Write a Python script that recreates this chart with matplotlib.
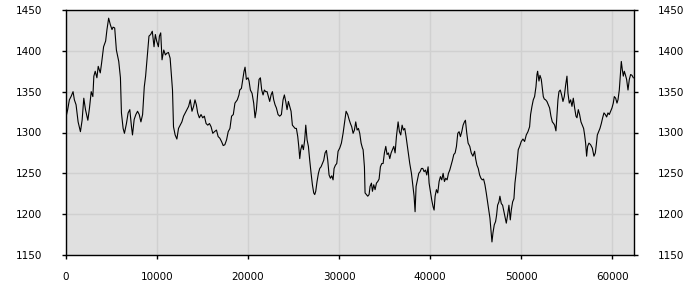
import numpy as np
import matplotlib
matplotlib.use('Agg')
import matplotlib.pyplot as plt

# x positions and values
x_vals = [
    0, 185, 370, 555, 775, 920, 1105, 1330, 1585, 1770, 1955, 2140, 2400, 2580, 2770, 2950,
    3060, 3210, 3395, 3540, 3765, 3910, 4130, 4355, 4500, 4685, 4870, 5055, 5165, 5350,
    5535, 5795, 5980, 6090, 6275, 6420, 6640, 6825, 7010, 7195, 7305, 7490, 7675, 7860,
    8045, 8230, 8415, 8600, 8745, 8930, 9115, 9300, 9480, 9670, 9815, 9960, 10150, 10260,
    10405, 10550, 10740, 10920, 11070, 11255, 11440, 11590, 11700, 11810, 11990, 12180,
    12360, 12550, 12730, 12915, 13100, 13285, 13470, 13650, 13840, 14020, 14170, 14320,
    14465, 14650, 14835, 15020, 15200, 15390, 15575, 15760, 15940, 16125, 16310, 16530,
    16715, 16900, 17085, 17270, 17450, 17640, 17820, 18010, 18190, 18380, 18560, 18820,
    19000, 19085, 19270, 19450, 19560, 19670, 19815, 20000, 20110, 20255, 20440, 20620,
    20770, 20915, 21060, 21210, 21355, 21500, 21650, 21795, 21940, 22090, 22235, 22380,
    22530, 22675, 22820, 22965, 23115, 23295, 23480, 23665, 23845, 23990, 24140, 24285,
    24430, 24580, 24725, 24870, 25020, 25165, 25310, 25460, 25570, 25680, 25790, 25935,
    26080, 26225, 26340, 26485, 26630, 26775, 26925, 27070, 27215, 27325, 27435, 27580,
    27730, 27875, 28020, 28170, 28315, 28460, 28610, 28755, 28900, 29050, 29195, 29340,
    29450, 29600, 29745, 29890, 30075, 30255, 30440, 30585, 30770, 30950, 31100, 31245,
    31390, 31540, 31685, 31830, 31980, 32125, 32270, 32420, 32565, 32640, 32785, 32855,
    33005, 33150, 33295, 33405, 33555, 33665, 33810, 33955, 34105, 34250, 34395, 34540,
    34690, 34835, 34980, 35130, 35275, 35420, 35570, 35715, 35860, 36010, 36155, 36300,
    36485, 36630, 36775, 36925, 37070, 37215, 37360, 37510, 37765, 37950, 38130, 38240,
    38350, 38460, 38610, 38755, 38900, 39050, 39195, 39340, 39490, 39635, 39780, 39890,
    40035, 40185, 40330, 40440, 40550, 40695, 40840, 40990, 41135, 41280, 41430, 41575,
    41720, 41870, 42015, 42160, 42310, 42455, 42600, 42750, 42895, 43040, 43185, 43330,
    43480, 43625, 43770, 43880, 44030, 44175, 44360, 44520, 44705, 44890, 45000, 45145,
    45290, 45440, 45585, 45730, 45875, 46025, 46170, 46315, 46465, 46575, 46685, 46795,
    46905, 47050, 47195, 47305, 47415, 47560, 47670, 47820, 47965, 48110, 48260, 48370,
    48515, 48660, 48810, 48920, 49065, 49210, 49320, 49465, 49575, 49685, 49835, 50015,
    50200, 50380, 50565, 50750, 50930, 51040, 51190, 51335, 51480, 51630, 51740, 51810,
    51960, 52070, 52215, 52325, 52435, 52545, 52690, 52835, 52985, 53130, 53275, 53425,
    53570, 53680, 53825, 53935, 54045, 54155, 54300, 54450, 54595, 54740, 54890, 55035,
    55145, 55290, 55440, 55585, 55730, 55880, 56025, 56135, 56280, 56425, 56575, 56720,
    56865, 56975, 57085, 57195, 57305, 57450, 57635, 57820, 58000, 58150, 58260, 58370,
    58515, 58660, 58810, 58955, 59100, 59250, 59395, 59540, 59685, 59835, 59980, 60125,
    60235, 60385, 60530, 60640, 60785, 60895, 61005, 61115, 61225, 61335, 61445, 61590,
    61740, 61885, 62030, 62180, 62325,
]

y_vals = [
    1319, 1328, 1340, 1344, 1350, 1340, 1334, 1313, 1301, 1315, 1342, 1328, 1315, 1330, 1350, 1344,
    1369, 1375, 1367, 1381, 1373, 1385, 1405, 1412, 1426, 1440, 1432, 1426, 1429, 1428,
    1401, 1387, 1367, 1324, 1305, 1299, 1311, 1324, 1328, 1307, 1297, 1316, 1322, 1326,
    1322, 1313, 1322, 1356, 1369, 1393, 1418, 1420, 1424, 1405, 1420, 1412, 1405, 1418,
    1422, 1389, 1401, 1395, 1397, 1398, 1391, 1369, 1352, 1307, 1297, 1292,
    1305, 1309, 1313, 1320, 1324, 1328, 1332, 1340, 1326, 1332, 1340, 1334,
    1324, 1318, 1322, 1318, 1320, 1311, 1309, 1311, 1307, 1299, 1301, 1303,
    1295, 1293, 1289, 1284, 1285, 1291, 1301, 1305, 1320, 1322, 1336, 1340,
    1346, 1352, 1354, 1367, 1375, 1380, 1365, 1367, 1363, 1352, 1348, 1336,
    1318, 1328, 1348, 1365, 1367, 1352, 1346, 1352, 1350, 1350, 1344, 1338,
    1346, 1350, 1340, 1334, 1330, 1322, 1320, 1322, 1340, 1346, 1338, 1328,
    1338, 1332, 1326, 1309, 1307, 1305, 1305, 1295, 1283, 1268, 1279, 1285,
    1279, 1291, 1309, 1291, 1283, 1266, 1250, 1236, 1226, 1224, 1228, 1240,
    1250, 1256, 1258, 1262, 1266, 1275, 1278, 1266, 1248, 1244, 1247, 1242,
    1256, 1260, 1262, 1277, 1281, 1287, 1299, 1311, 1326, 1322, 1316, 1311,
    1307, 1299, 1303, 1313, 1303, 1305, 1299, 1287, 1281, 1279, 1258, 1226,
    1224, 1222, 1224, 1234, 1238, 1228, 1236, 1230, 1238, 1240, 1243, 1258,
    1262, 1262, 1275, 1283, 1273, 1275, 1268, 1275, 1279, 1283, 1275, 1295,
    1313, 1301, 1297, 1309, 1303, 1305, 1295, 1283, 1262, 1250, 1232, 1222,
    1203, 1234, 1242, 1250, 1252, 1256, 1256, 1252, 1254, 1248, 1258, 1238,
    1228, 1217, 1209, 1205, 1222, 1230, 1226, 1240, 1246, 1242, 1250, 1240,
    1244, 1242, 1250, 1254, 1260, 1266, 1273, 1275, 1283, 1299, 1301, 1295,
    1301, 1309, 1313, 1315, 1299, 1287, 1283, 1275, 1271, 1277, 1268, 1260,
    1256, 1248, 1244, 1242, 1243, 1236, 1226, 1215, 1203, 1195, 1181, 1166,
    1177, 1187, 1191, 1199, 1211, 1215, 1222, 1213, 1211, 1203, 1195, 1189,
    1199, 1211, 1193, 1205, 1215, 1219, 1238, 1252, 1266, 1279, 1283, 1289,
    1292, 1289, 1297, 1301, 1307, 1322, 1332, 1340, 1344, 1356, 1371, 1375,
    1363, 1370, 1365, 1354, 1344, 1341, 1340, 1338, 1334, 1330, 1320, 1313,
    1311, 1309, 1302, 1322, 1340, 1350, 1352, 1346, 1338, 1344, 1358, 1369,
    1348, 1336, 1340, 1332, 1342, 1330, 1320, 1318, 1328, 1322, 1313, 1309,
    1305, 1297, 1287, 1271, 1283, 1287, 1285, 1281, 1271, 1275, 1285, 1297,
    1301, 1305, 1311, 1318, 1324, 1322, 1319, 1324, 1322, 1326, 1330, 1336,
    1344, 1342, 1336, 1340, 1352, 1369, 1387, 1377, 1369, 1375, 1371, 1365,
    1352, 1365, 1371, 1370, 1367,
]

x_ticks = [0, 10000, 20000, 30000, 40000, 50000, 60000]
y_ticks = [1150, 1200, 1250, 1300, 1350, 1400, 1450]

fig = plt.figure(figsize=(7, 3), dpi=100)
ax = fig.add_axes([66 / 700, 45 / 300, 568 / 700, 245 / 300])
ax.set_facecolor('#e0e0e0')

ax.plot(x_vals, y_vals, color='black', linewidth=0.8)

ax.set_xlim(0, 62400)
ax.set_ylim(1150, 1450)
ax.set_xticks(x_ticks)
ax.set_yticks(y_ticks)
ax.grid(True, color='#d0d0d0', linewidth=1)
ax.set_axisbelow(True)

for s in ax.spines.values():
    s.set_color('black')
    s.set_linewidth(1)

ax.tick_params(axis='both', direction='out', length=3, width=1, colors='black', labelsize=7.5)
ax.tick_params(axis='y', left=True, right=True, labelleft=True, labelright=True, pad=14)
ax.tick_params(axis='x', pad=9)
ax.tick_params(top=False)

fig.savefig('out.png', dpi=100)
